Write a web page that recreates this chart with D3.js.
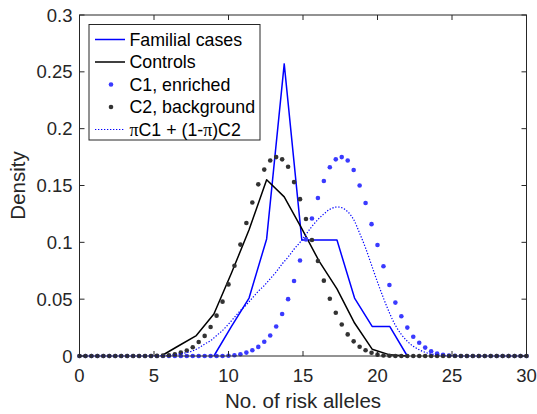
<!DOCTYPE html>
<html>
<head>
<meta charset="utf-8">
<script src="https://cdn.jsdelivr.net/npm/d3@7"></script>
<style>
  html, body { margin: 0; padding: 0; background: #fff; }
  svg { display: block; font-family: "Liberation Sans", Arial, sans-serif; }
</style>
</head>
<body>
<svg id="chart" width="537" height="414"></svg>
<script>
// ---------- data ----------
const xTicks = [0, 5, 10, 15, 20, 25, 30];
const yTicks = [0, 0.05, 0.1, 0.15, 0.2, 0.25, 0.3];
const yTickLabels = ["0", "0.05", "0.1", "0.15", "0.2", "0.25", "0.3"];

// histogram bin centres (number of risk alleles)
const familialX = [9.02, 10.2, 11.38, 12.56, 13.74, 14.92, 16.1, 17.28, 18.46, 19.64, 20.82, 22.0];
const familialY = [0, 0.026, 0.051, 0.103, 0.257, 0.102, 0.102, 0.102, 0.051, 0.026, 0.026, 0];

const controlsX = [5.48, 6.66, 7.84, 9.02, 10.2, 11.38, 12.56, 13.74, 14.92, 16.1, 17.28, 18.46, 19.64, 20.82, 22.0];
const controlsY = [0, 0.009, 0.018, 0.037, 0.073, 0.111, 0.155, 0.140, 0.112, 0.083, 0.059, 0.029, 0.006, 0.001, 0];

// model grid
const gridX = [0, 0.4, 0.8, 1.2, 1.6, 2, 2.4, 2.8, 3.2, 3.6, 4, 4.4, 4.8, 5.2, 5.6, 6, 6.4, 6.8, 7.2, 7.6,
  8, 8.4, 8.8, 9.2, 9.6, 10, 10.4, 10.8, 11.2, 11.6, 12, 12.4, 12.8, 13.2, 13.6, 14, 14.4, 14.8, 15.2, 15.6,
  16, 16.4, 16.8, 17.2, 17.6, 18, 18.4, 18.8, 19.2, 19.6, 20, 20.4, 20.8, 21.2, 21.6, 22, 22.4, 22.8, 23.2, 23.6,
  24, 24.4, 24.8, 25.2, 25.6, 26, 26.4, 26.8, 27.2, 27.6, 28, 28.4, 28.8, 29.2, 29.6, 30];

const c1Enriched = [0, 0, 0, 0, 0, 0, 0, 0, 0, 0, 0, 0, 0, 0, 0, 0, 0, 0, 0, 0,
  0, 0, 0, 0, 0, 0.0002, 0.0006, 0.0015, 0.003, 0.005, 0.008, 0.0125, 0.018, 0.026, 0.037, 0.05, 0.066, 0.084, 0.1026, 0.121,
  0.139, 0.154, 0.166, 0.173, 0.175, 0.172, 0.1636, 0.150, 0.1346, 0.116, 0.0976, 0.079, 0.0624, 0.047, 0.035, 0.025, 0.017, 0.0117, 0.0074, 0.0042,
  0.0022, 0.0011, 0.0005, 0.0002, 0, 0, 0, 0, 0, 0, 0, 0, 0, 0, 0, 0];

const c2Background = [0, 0, 0, 0, 0, 0, 0, 0, 0, 0, 0, 0, 0, 0.0001, 0.0003, 0.0006, 0.0015, 0.003, 0.0048, 0.0077,
  0.0123, 0.0177, 0.0255, 0.0355, 0.0478, 0.063, 0.0794, 0.098, 0.117, 0.135, 0.151, 0.164, 0.172, 0.175, 0.173, 0.1665, 0.153, 0.138, 0.1205, 0.102,
  0.0836, 0.0663, 0.0504, 0.0381, 0.0277, 0.019, 0.0129, 0.0082, 0.005, 0.0028, 0.0012, 0.0005, 0.0002, 0, 0, 0, 0, 0, 0, 0,
  0, 0, 0, 0, 0, 0, 0, 0, 0, 0, 0, 0, 0, 0, 0, 0];

const mixture = [0, 0, 0, 0, 0, 0, 0, 0, 0, 0, 0, 0, 0, 0.0001, 0.0003, 0.0005, 0.001, 0.002, 0.003, 0.0045,
  0.007, 0.0105, 0.0135, 0.018, 0.0225, 0.028, 0.034, 0.040, 0.045, 0.051, 0.057, 0.062, 0.068, 0.074, 0.081, 0.087, 0.094, 0.100, 0.107, 0.114,
  0.120, 0.125, 0.129, 0.131, 0.1305, 0.127, 0.120, 0.108, 0.095, 0.080, 0.065, 0.051, 0.038, 0.027, 0.019, 0.013, 0.0085, 0.0055, 0.0032, 0.0018,
  0.001, 0.0005, 0.0002, 0, 0, 0, 0, 0, 0, 0, 0, 0, 0, 0, 0, 0];

const legendLabels = ["Familial cases", "Controls", "C1, enriched", "C2, background"];

// ---------- layout ----------
const svg = d3.select("#chart");
const L = 79.5, R = 526.5, T = 15, B = 356;
const axisColor = "#262626";
const x = d3.scaleLinear().domain([0, 30]).range([L, R]);
const y = d3.scaleLinear().domain([0, 0.3]).range([B, T]);

// ---------- series ----------
const lineGen = d3.line().x(d => x(d[0])).y(d => y(d[1]));

svg.append("path")
  .attr("d", lineGen(familialX.map((v, i) => [v, familialY[i]])))
  .attr("fill", "none").attr("stroke", "#0000ff").attr("stroke-width", 1.5)
  .attr("stroke-linejoin", "round");

svg.append("path")
  .attr("d", lineGen(controlsX.map((v, i) => [v, controlsY[i]])))
  .attr("fill", "none").attr("stroke", "#000000").attr("stroke-width", 1.5)
  .attr("stroke-linejoin", "round");

svg.append("g").selectAll("circle")
  .data(gridX.map((v, i) => [v, c1Enriched[i]]))
  .join("circle")
  .attr("cx", d => x(d[0])).attr("cy", d => y(d[1])).attr("r", 2.3)
  .attr("fill", "#3a3aff");

svg.append("g").selectAll("circle")
  .data(gridX.map((v, i) => [v, c2Background[i]]))
  .join("circle")
  .attr("cx", d => x(d[0])).attr("cy", d => y(d[1])).attr("r", 2.3)
  .attr("fill", "#333333");

svg.append("path")
  .attr("d", d3.line().x(d => x(d[0])).y(d => y(d[1])).curve(d3.curveCatmullRom)(gridX.map((v, i) => [v, mixture[i]])))
  .attr("fill", "none").attr("stroke", "#0000ff").attr("stroke-width", 1.2)
  .attr("stroke-dasharray", "1.3,1.7");

// ---------- axes ----------
const tickLen = 5;
const axG = svg.append("g").attr("stroke", axisColor).attr("stroke-width", 1);
axG.append("rect").attr("x", L).attr("y", T).attr("width", R - L).attr("height", B - T).attr("fill", "none");
xTicks.forEach(t => {
  axG.append("line").attr("x1", x(t)).attr("x2", x(t)).attr("y1", B).attr("y2", B - tickLen);
  axG.append("line").attr("x1", x(t)).attr("x2", x(t)).attr("y1", T).attr("y2", T + tickLen);
});
yTicks.forEach(t => {
  axG.append("line").attr("x1", L).attr("x2", L + tickLen).attr("y1", y(t)).attr("y2", y(t));
  axG.append("line").attr("x1", R).attr("x2", R - tickLen).attr("y1", y(t)).attr("y2", y(t));
});

const tickFont = 18.5;
svg.append("g").selectAll("text").data(xTicks).join("text")
  .attr("x", d => x(d)).attr("y", B + 26)
  .attr("text-anchor", "middle").attr("font-size", tickFont).attr("fill", axisColor)
  .text(d => d);
svg.append("g").selectAll("text").data(yTicks).join("text")
  .attr("x", L - 7).attr("y", d => y(d) + 6.5)
  .attr("text-anchor", "end").attr("font-size", tickFont).attr("fill", axisColor)
  .text((d, i) => yTickLabels[i]);

svg.append("text").attr("x", (L + R) / 2).attr("y", 407.5)
  .attr("text-anchor", "middle").attr("font-size", 20.5).attr("fill", axisColor)
  .text("No. of risk alleles");
svg.append("text").attr("transform", `translate(25,${(T + B) / 2}) rotate(-90)`)
  .attr("text-anchor", "middle").attr("font-size", 20.5).attr("fill", axisColor)
  .text("Density");

// ---------- legend ----------
const lg = svg.append("g");
lg.append("rect").attr("x", 89).attr("y", 24.5).attr("width", 171).attr("height", 115.5)
  .attr("fill", "#fff").attr("stroke", axisColor).attr("stroke-width", 1);
const rowY = [39.5, 62, 84.5, 107, 129.5];
const legFont = 17.8;
lg.append("line").attr("x1", 95).attr("x2", 125).attr("y1", rowY[0]).attr("y2", rowY[0])
  .attr("stroke", "#0000ff").attr("stroke-width", 1.5);
lg.append("line").attr("x1", 95).attr("x2", 125).attr("y1", rowY[1]).attr("y2", rowY[1])
  .attr("stroke", "#000").attr("stroke-width", 1.5);
lg.append("circle").attr("cx", 111).attr("cy", rowY[2]).attr("r", 2.3).attr("fill", "#3a3aff");
lg.append("circle").attr("cx", 111).attr("cy", rowY[3]).attr("r", 2.3).attr("fill", "#333333");
lg.append("line").attr("x1", 95).attr("x2", 125).attr("y1", rowY[4]).attr("y2", rowY[4])
  .attr("stroke", "#0000ff").attr("stroke-width", 1.2).attr("stroke-dasharray", "1.3,1.7");
legendLabels.forEach((s, i) => {
  lg.append("text").attr("x", 129.5).attr("y", rowY[i] + 6.3)
    .attr("font-size", legFont).attr("fill", "#000").text(s);
});
const mixText = lg.append("text").attr("x", 129.5).attr("y", rowY[4] + 6.3)
  .attr("font-size", legFont).attr("fill", "#000");
mixText.append("tspan").attr("font-family", "Liberation Serif, serif").text("π");
mixText.append("tspan").text("C1 + (1-");
mixText.append("tspan").attr("font-family", "Liberation Serif, serif").text("π");
mixText.append("tspan").text(")C2");
</script>
</body>
</html>
